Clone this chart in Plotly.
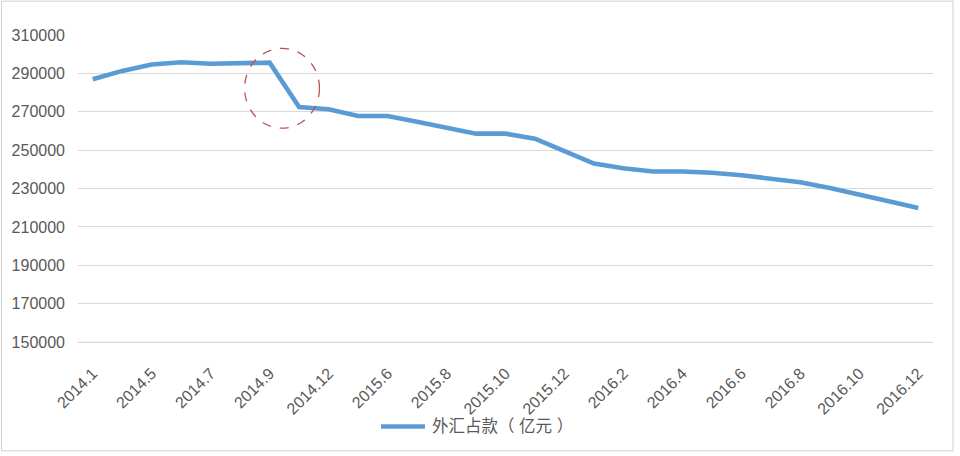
import plotly.graph_objects as go

# Categories (29 points); only every other one is labelled on the axis
categories = ["2014.1", "2014.3", "2014.5", "2014.6", "2014.7", "2014.8", "2014.9", "2014.10",
              "2014.12", "2015.3", "2015.6", "2015.7", "2015.8", "2015.9", "2015.10", "2015.11",
              "2015.12", "2016.1", "2016.2", "2016.3", "2016.4", "2016.5", "2016.6", "2016.7",
              "2016.8", "2016.9", "2016.10", "2016.11", "2016.12"]
values = [286900, 291300, 294600, 295800, 295000, 295100, 295600, 272500,
          271300, 267800, 267800, 264800, 261900, 258600, 258600, 256000,
          249500, 243000, 240600, 238900, 238900, 238200, 236900, 235400,
          233300, 230300, 227100, 223400, 219800]
tick_labels = ["2014.1", "2014.5", "2014.7", "2014.9", "2014.12", "2015.6", "2015.8", "2015.10",
               "2015.12", "2016.2", "2016.4", "2016.6", "2016.8", "2016.10", "2016.12"]
y_ticks = [150000, 170000, 190000, 210000, 230000, 250000, 270000, 290000, 310000]
series_name = "外汇占款（亿元）"
legend_text = "外汇占款（ 亿元 ）"

idx = list(range(len(categories)))
tick_pos = [categories.index(t) for t in tick_labels]

FONT = "Liberation Sans, Noto Sans CJK SC, sans-serif"
TXT = "#595959"
BLUE = "#5b9bd5"
GRID = "#d9d9d9"

fig = go.Figure()
fig.add_trace(go.Scatter(
    x=idx, y=values, mode="lines", name=series_name, showlegend=False,
    line=dict(color=BLUE, width=4.6),
))

# bottom gridline (drawn explicitly, just inside the plot-area bottom edge)
fig.add_shape(type="line", xref="paper", yref="paper", x0=0, x1=1,
              y0=0.002, y1=0.002, layer="above",
              line=dict(color=GRID, width=1.2))

# dashed red circle highlighting the drop (between points 6 and 7)
cx = 6.43
cy = (values[6] + values[7]) / 2 - 1800
fig.add_shape(type="circle", xref="x", yref="y",
              x0=cx - 1.28, x1=cx + 1.26, y0=cy - 20800, y1=cy + 20800,
              line=dict(color="#c0504d", width=1.3, dash="dash"))

# outer frame
fig.add_shape(type="rect", xref="paper", yref="paper",
              x0=-0.0895, x1=1.0234, y0=-0.35, y1=1.11,
              line=dict(color="#d0d0d0", width=1))

# legend (drawn manually to match the long line sample)
fig.add_shape(type="line", xref="paper", yref="paper",
              x0=0.3544, x1=0.4058, y0=-0.2711, y1=-0.2711,
              line=dict(color=BLUE, width=4.6))
fig.add_annotation(xref="paper", yref="paper", x=0.4117, y=-0.2711,
                   xanchor="left", yanchor="middle", showarrow=False,
                   text=legend_text, font=dict(size=16.5, color=TXT))

fig.update_layout(
    width=960, height=456,
    margin=dict(l=78, r=27, t=35, b=113),
    paper_bgcolor="white", plot_bgcolor="white",
    font=dict(family=FONT, color=TXT, size=16),
    showlegend=False,
    xaxis=dict(range=[-0.5, len(categories) - 0.5], tickmode="array",
               tickvals=tick_pos, ticktext=tick_labels, tickangle=-45,
               showgrid=False, zeroline=False, showline=False, ticks="",
               ticklabelstandoff=17, tickfont=dict(size=16, color=TXT)),
    yaxis=dict(range=[149500, 310000], tickmode="array", tickvals=y_ticks,
               ticktext=[str(v) for v in y_ticks],
               showgrid=True, gridcolor=GRID, gridwidth=1, zeroline=False,
               showline=False, ticks="", ticklabelstandoff=12,
               tickfont=dict(size=16, color=TXT)),
)

fig.write_html("out.html")
